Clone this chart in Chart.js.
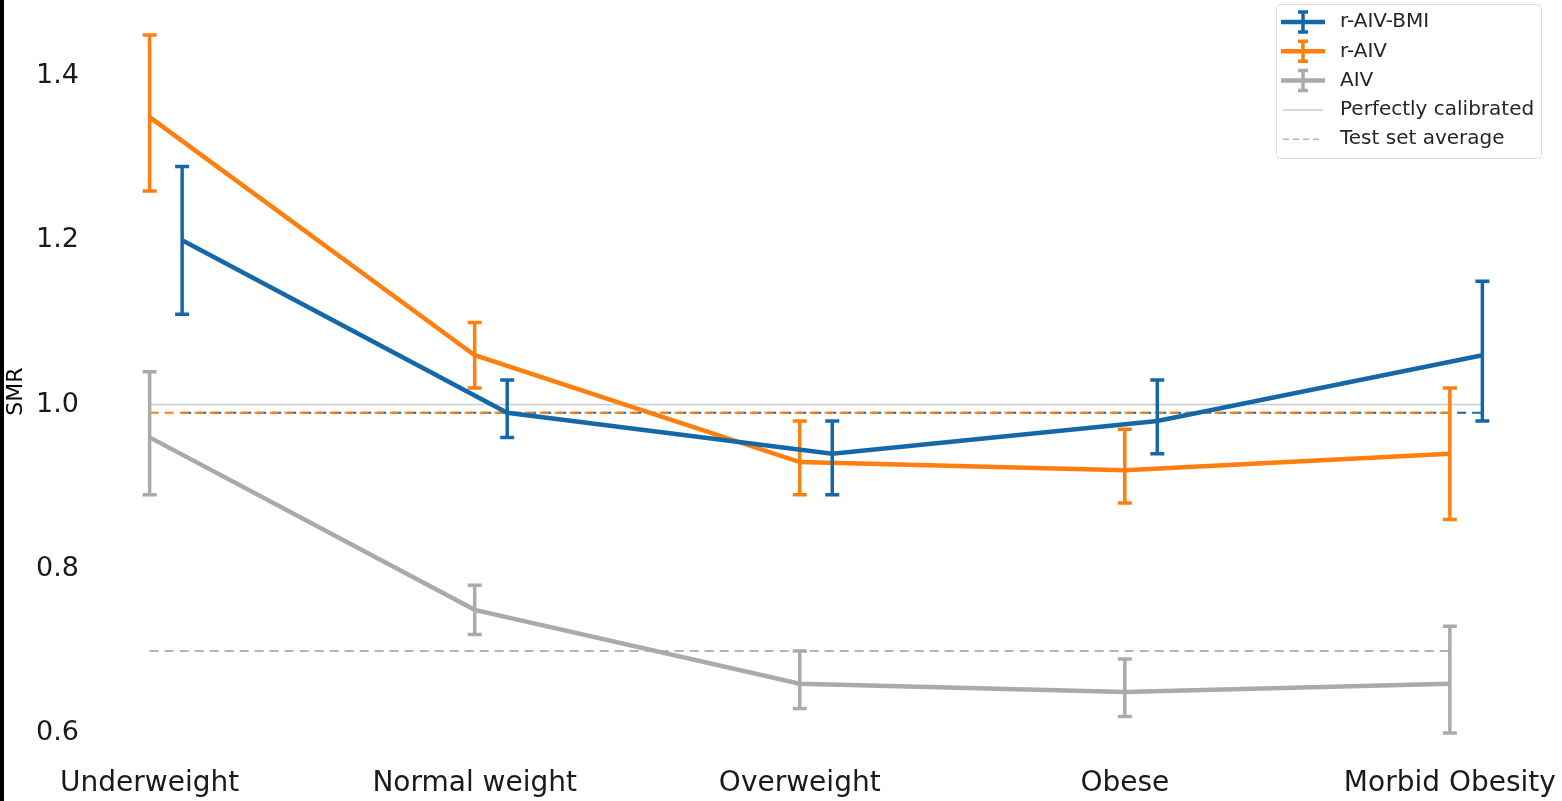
<!DOCTYPE html>
<html>
<head>
<meta charset="utf-8">
<script src="https://cdn.jsdelivr.net/npm/chart.js@4.4.0/dist/chart.umd.min.js"></script>
<style>
  html, body { margin: 0; padding: 0; background: #fff; }
  #wrap { position: relative; width: 1562px; height: 801px; }
  #edge { position: absolute; left: 0; top: 0; width: 4px; height: 801px; background: #000; z-index: 2; }
  canvas { display: block; }
</style>
</head>
<body>
<div id="wrap">
  <div id="edge"></div>
  <canvas id="grafico" width="1562" height="801"></canvas>
</div>
<script>
// categorias do eixo x
var categorias = ['Underweight', 'Normal weight', 'Overweight', 'Obese', 'Morbid Obesity']
var ticksY = [0.6, 0.8, 1.0, 1.2, 1.4]

// r-AIV-BMI
var smrBmi = [1.20, 0.99, 0.94, 0.98, 1.06]
var baixoBmi = [1.11, 0.96, 0.89, 0.94, 0.98]
var altoBmi = [1.29, 1.03, 0.98, 1.03, 1.15]

// r-AIV
var smrRaiv = [1.35, 1.06, 0.93, 0.92, 0.94]
var baixoRaiv = [1.26, 1.02, 0.89, 0.88, 0.86]
var altoRaiv = [1.45, 1.10, 0.98, 0.97, 1.02]

// AIV
var smrAiv = [0.96, 0.75, 0.66, 0.65, 0.66]
var baixoAiv = [0.89, 0.72, 0.63, 0.62, 0.60]
var altoAiv = [1.04, 0.78, 0.70, 0.69, 0.73]

// media do conjunto de teste e calibracao perfeita
var mediaBmi = 0.99
var mediaRaiv = 0.99
var mediaAiv = 0.70
var calibrado = 1.0

var deslocBmi = 0.1

var azul = '#1568a8'
var laranja = '#ff7f0e'
var cinza = '#aaaaaa'

function pontos(valores, desloc) {
  var lista = []
  for (let i = 0; i < valores.length; i++) {
    lista.push({ x: i + desloc, y: valores[i] })
  }
  return lista
}

function linhaH(valor, x0, x1) {
  return [{ x: x0, y: valor }, { x: x1, y: valor }]
}

var ultimo = categorias.length - 1

// barras de erro desenhadas logo depois de cada dataset
var barrasErro = {
  id: 'barrasErro',
  afterDatasetDraw(chart, args) {
    var ds = chart.data.datasets[args.index]
    if (!ds.erroBaixo) return
    var ctx = chart.ctx
    var sx = chart.scales.x
    var sy = chart.scales.y
    ctx.save()
    ctx.strokeStyle = ds.borderColor
    ctx.lineWidth = 3.5
    ctx.lineCap = 'butt'
    for (let i = 0; i < ds.data.length; i++) {
      var px = sx.getPixelForValue(ds.data[i].x)
      var y0 = sy.getPixelForValue(ds.erroBaixo[i])
      var y1 = sy.getPixelForValue(ds.erroAlto[i])
      ctx.beginPath()
      ctx.moveTo(px, y0)
      ctx.lineTo(px, y1)
      ctx.moveTo(px - 7, y0)
      ctx.lineTo(px + 7, y0)
      ctx.moveTo(px - 7, y1)
      ctx.lineTo(px + 7, y1)
      ctx.stroke()
    }
    ctx.restore()
  }
}

// legenda no canto superior direito
var legenda = {
  id: 'legenda',
  afterDraw(chart) {
    var ctx = chart.ctx
    var itens = [
      { texto: 'r-AIV-BMI', cor: azul, tipo: 'erro' },
      { texto: 'r-AIV', cor: laranja, tipo: 'erro' },
      { texto: 'AIV', cor: cinza, tipo: 'erro' },
      { texto: 'Perfectly calibrated', cor: '#c8c8c8', tipo: 'linha' },
      { texto: 'Test set average', cor: '#b4b4b4', tipo: 'tracejado' }
    ]
    var bx = 1276, by = 4, bw = 265, bh = 154
    ctx.save()
    ctx.fillStyle = 'rgba(255,255,255,0.85)'
    ctx.strokeStyle = '#dddddd'
    ctx.lineWidth = 1
    ctx.beginPath()
    ctx.roundRect(bx + 0.5, by + 0.5, bw, bh, 4)
    ctx.fill()
    ctx.stroke()
    for (let i = 0; i < itens.length; i++) {
      var it = itens[i]
      var cy = 22 + i * 29.3
      ctx.strokeStyle = it.cor
      ctx.setLineDash([])
      if (it.tipo == 'erro') {
        ctx.lineWidth = 4.5
        ctx.beginPath()
        ctx.moveTo(1281, cy)
        ctx.lineTo(1325, cy)
        ctx.stroke()
        ctx.lineWidth = 3.5
        ctx.beginPath()
        ctx.moveTo(1303, cy - 10)
        ctx.lineTo(1303, cy + 10)
        ctx.moveTo(1298, cy - 10)
        ctx.lineTo(1308, cy - 10)
        ctx.moveTo(1298, cy + 10)
        ctx.lineTo(1308, cy + 10)
        ctx.stroke()
      } else {
        ctx.lineWidth = 1.5
        if (it.tipo == 'tracejado') ctx.setLineDash([6, 4])
        ctx.beginPath()
        ctx.moveTo(1283, cy)
        ctx.lineTo(1323, cy)
        ctx.stroke()
      }
      ctx.setLineDash([])
      ctx.fillStyle = '#262626'
      ctx.font = '20px "DejaVu Sans"'
      ctx.textBaseline = 'middle'
      ctx.textAlign = 'left'
      ctx.fillText(it.texto, 1340, cy)
    }
    ctx.restore()
  }
}

function tracejado(valor, x0, x1, cor, offset, ordem) {
  return {
    data: linhaH(valor, x0, x1),
    borderColor: cor,
    borderWidth: 2,
    borderDash: [9, 6],
    borderDashOffset: offset,
    pointRadius: 0,
    fill: false,
    order: ordem
  }
}

const config = {
  type: 'line',
  data: {
    datasets: [
      {
        label: 'r-AIV-BMI',
        data: pontos(smrBmi, deslocBmi),
        erroBaixo: baixoBmi,
        erroAlto: altoBmi,
        borderColor: azul,
        borderWidth: 4.5,
        pointRadius: 0,
        fill: false,
        order: 1
      },
      {
        label: 'r-AIV',
        data: pontos(smrRaiv, 0),
        erroBaixo: baixoRaiv,
        erroAlto: altoRaiv,
        borderColor: laranja,
        borderWidth: 4.5,
        pointRadius: 0,
        fill: false,
        order: 2
      },
      {
        label: 'AIV',
        data: pontos(smrAiv, 0),
        erroBaixo: baixoAiv,
        erroAlto: altoAiv,
        borderColor: cinza,
        borderWidth: 4.5,
        pointRadius: 0,
        fill: false,
        order: 3
      },
      {
        label: 'Perfectly calibrated',
        data: linhaH(calibrado, 0, ultimo + deslocBmi),
        borderColor: '#cccccc',
        borderWidth: 1.5,
        pointRadius: 0,
        fill: false,
        order: 7
      },
      tracejado(mediaRaiv, 0, ultimo, laranja, 0, 4),
      tracejado(mediaBmi, deslocBmi, ultimo + deslocBmi, azul, 0, 5),
      tracejado(mediaAiv, 0, ultimo, '#b4b4b4', 0, 6)
    ]
  },
  options: {
    responsive: false,
    animation: false,
    layout: { padding: { top: 7, right: 13, left: 0, bottom: 0 } },
    plugins: {
      legend: { display: false },
      tooltip: { enabled: false }
    },
    scales: {
      x: {
        type: 'linear',
        min: -0.205,
        max: 4.305,
        grid: { display: false, drawTicks: false },
        border: { display: false },
        afterBuildTicks: function (escala) {
          escala.ticks = categorias.map(function (c, i) { return { value: i } })
        },
        afterFit: function (escala) { escala.height = 38 },
        ticks: {
          autoSkip: false,
          maxRotation: 0,
          padding: 4,
          color: '#1a1a1a',
          font: { family: 'DejaVu Sans', size: 28 },
          callback: function (v) { return categorias[v] }
        }
      },
      y: {
        min: 0.5635,
        max: 1.468,
        grid: { display: false, drawTicks: false },
        border: { display: false },
        afterBuildTicks: function (escala) {
          escala.ticks = ticksY.map(function (v) { return { value: v } })
        },
        afterFit: function (escala) { escala.width = 83 },
        title: {
          display: true,
          text: 'SMR',
          color: '#000',
          font: { family: 'DejaVu Sans', size: 22 },
          padding: { top: 3, bottom: 0 }
        },
        ticks: {
          padding: 4,
          color: '#1a1a1a',
          font: { family: 'DejaVu Sans', size: 27 },
          callback: function (v) { return Number(v).toFixed(1) }
        }
      }
    }
  },
  plugins: [barrasErro, legenda]
}

var grafico = new Chart(document.getElementById('grafico'), config)
</script>
</body>
</html>
